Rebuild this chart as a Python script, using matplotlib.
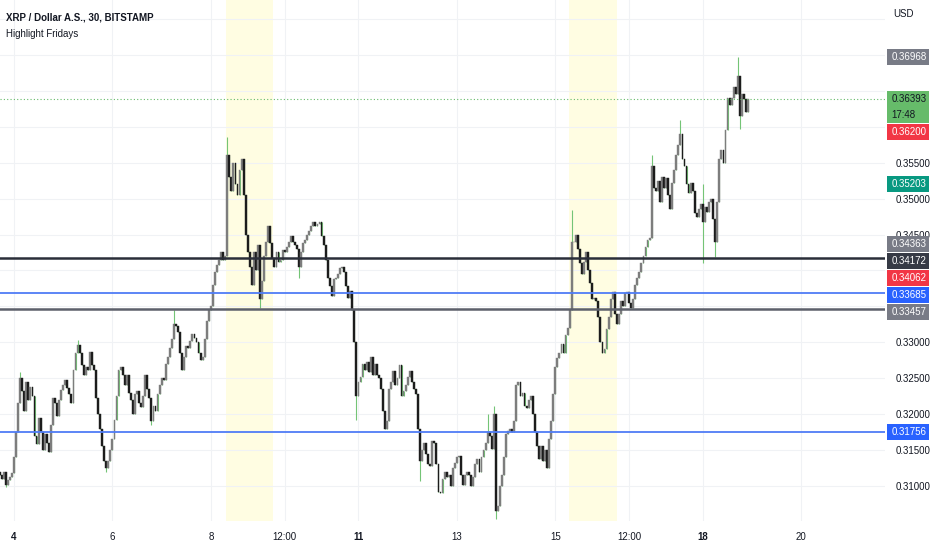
import matplotlib.pyplot as plt
from matplotlib.patches import Rectangle

# XRP / USD on Bitstamp, read off the chart as hourly closes
# first bar is day 3 at 17:00, one bar per hour
start_day = 3 + 17 / 24
first_open = 0.3120
closes = [
    0.3115, 0.3110, 0.3120, 0.3102, 0.3108, 0.3112, 0.3118, 0.3140, 0.3175, 0.3215,
    0.3250, 0.3232, 0.3205, 0.3245, 0.3220, 0.3238, 0.3225, 0.3170, 0.3158, 0.3195,
    0.3175, 0.3150, 0.3172, 0.3160, 0.3148, 0.3185, 0.3222, 0.3215, 0.3198, 0.3220,
    0.3234, 0.3240, 0.3248, 0.3236, 0.3228, 0.3215, 0.3262, 0.3285, 0.3296, 0.3285,
    0.3268, 0.3254, 0.3266, 0.3262, 0.3287, 0.3268, 0.3262, 0.3222, 0.3200, 0.3180,
    0.3155, 0.3135, 0.3125, 0.3135, 0.3150, 0.3165, 0.3192, 0.3225, 0.3262, 0.3266,
    0.3255, 0.3240, 0.3255, 0.3230, 0.3220, 0.3200, 0.3228, 0.3232, 0.3215, 0.3210,
    0.3225, 0.3255, 0.3235, 0.3222, 0.3190, 0.3212, 0.3205, 0.3228, 0.3240, 0.3250,
    0.3248, 0.3270, 0.3280, 0.3292, 0.3305, 0.3325, 0.3322, 0.3315, 0.3285, 0.3262,
    0.3280, 0.3295, 0.3292, 0.3302, 0.3312, 0.3306, 0.3300, 0.3285, 0.3275, 0.3280,
    0.3305, 0.3330, 0.3345, 0.3350, 0.3380, 0.3398, 0.3408, 0.3415, 0.3425, 0.3415,
    0.3420, 0.3560, 0.3530, 0.3510, 0.3550, 0.3520, 0.3505, 0.3540, 0.3555, 0.3505,
    0.3450, 0.3425, 0.3405, 0.3380, 0.3425, 0.3400, 0.3435, 0.3360, 0.3385, 0.3420,
    0.3440, 0.3462, 0.3438, 0.3418, 0.3405, 0.3425, 0.3412, 0.3415, 0.3428, 0.3425,
    0.3432, 0.3440, 0.3448, 0.3440, 0.3436, 0.3430, 0.3405, 0.3425, 0.3438, 0.3442,
    0.3450, 0.3455, 0.3462, 0.3468, 0.3462, 0.3465, 0.3468, 0.3448, 0.3435, 0.3415,
    0.3390, 0.3378, 0.3365, 0.3388, 0.3390, 0.3395, 0.3403, 0.3405, 0.3398, 0.3378,
    0.3362, 0.3372, 0.3345, 0.3300, 0.3225, 0.3245, 0.3252, 0.3270, 0.3262, 0.3272,
    0.3258, 0.3280, 0.3255, 0.3270, 0.3255, 0.3250, 0.3235, 0.3205, 0.3180, 0.3190,
    0.3235, 0.3245, 0.3260, 0.3240, 0.3250, 0.3268, 0.3225, 0.3232, 0.3240, 0.3252,
    0.3260, 0.3245, 0.3235, 0.3228, 0.3180, 0.3135, 0.3150, 0.3160, 0.3145, 0.3130,
    0.3128, 0.3162, 0.3160, 0.3130, 0.3092, 0.3090, 0.3110, 0.3120, 0.3112, 0.3115,
    0.3100, 0.3125, 0.3132, 0.3140, 0.3142, 0.3115, 0.3102, 0.3115, 0.3120, 0.3115,
    0.3100, 0.3112, 0.3130, 0.3138, 0.3120, 0.3140, 0.3150, 0.3160, 0.3175, 0.3170,
    0.3152, 0.3200, 0.3065, 0.3072, 0.3100, 0.3115, 0.3140, 0.3172, 0.3176, 0.3180,
    0.3175, 0.3190, 0.3240, 0.3245, 0.3225, 0.3230, 0.3212, 0.3208, 0.3220, 0.3225,
    0.3200, 0.3175, 0.3155, 0.3138, 0.3155, 0.3135, 0.3150, 0.3125, 0.3165, 0.3190,
    0.3228, 0.3265, 0.3278, 0.3285, 0.3298, 0.3285, 0.3310, 0.3320, 0.3345, 0.3440,
    0.3440, 0.3450, 0.3430, 0.3410, 0.3395, 0.3412, 0.3425, 0.3400, 0.3382, 0.3360,
    0.3362, 0.3358, 0.3335, 0.3300, 0.3285, 0.3290, 0.3318, 0.3335, 0.3360, 0.3370,
    0.3340, 0.3325, 0.3340, 0.3358, 0.3350, 0.3368, 0.3370, 0.3355, 0.3348, 0.3360,
    0.3380, 0.3390, 0.3398, 0.3410, 0.3420, 0.3432, 0.3442, 0.3445, 0.3545, 0.3515,
    0.3510, 0.3525, 0.3495, 0.3530, 0.3515, 0.3528, 0.3505, 0.3485, 0.3522, 0.3540,
    0.3560, 0.3575, 0.3590, 0.3555, 0.3545, 0.3520, 0.3508, 0.3522, 0.3510, 0.3480,
    0.3475, 0.3485, 0.3492, 0.3468, 0.3488, 0.3482, 0.3495, 0.3500, 0.3472, 0.3440,
    0.3495, 0.3555, 0.3568, 0.3550, 0.3595, 0.3640, 0.3630, 0.3640, 0.3655, 0.3645,
    0.3670, 0.3615, 0.3645, 0.3638, 0.3620, 0.3639,
]

# long wicks that stick out of the bodies
wick_bar = [3, 10, 38, 52, 74, 85, 89, 111, 127, 146, 174, 205, 238, 241, 242,
            279, 318, 332, 343, 349, 360, 361]
wick_high = [None, 0.3258, 0.3303, None, None, 0.3345, None, 0.3586, None, None,
             None, None, 0.3200, 0.3212, None, 0.3484, 0.3560, 0.3609, 0.3520,
             None, 0.3697, None]
wick_low = [0.3099, None, None, 0.3119, 0.3185, None, 0.3261, None, 0.3348, 0.3390,
            0.3192, 0.3107, None, None, 0.3054, None, None, None, 0.3411, 0.3419,
            None, 0.3597]

# horizontal levels drawn on the chart
level_prices = [0.34172, 0.33685, 0.33457, 0.31756]
level_colors = ['#2a2e39', '#4f7cf6', '#5d606b', '#4f7cf6']
level_widths = [1.8, 1.3, 1.8, 1.3]
last_price = 0.36393
countdown = '17:48'

# price scale badges: value, background, text colour
badge_prices = [0.36968, 0.36393, 0.36200, 0.35203, 0.34363, 0.34172, 0.34062, 0.33685, 0.33457, 0.31756]
badge_colors = ['#787b86', '#66bb6a', '#f23645', '#089981', '#787b86', '#363a45',
                '#f23645', '#2962ff', '#787b86', '#2962ff']
badge_text = ['white', '#131722', 'white', 'white', 'white', 'white',
              'white', 'white', 'white', 'white']

friday_start = [8.30, 15.28]
friday_length = 0.97

tick_days = [4, 6, 8, 9.5, 11, 13, 15, 16.5, 18, 20]
tick_labels = ['4', '6', '8', '12:00', '11', '13', '15', '12:00', '18', '20']
bold_ticks = ['4', '11', '18']

price_ticks = [0.310, 0.315, 0.320, 0.325, 0.330, 0.335, 0.340, 0.345, 0.350,
               0.355, 0.360, 0.365, 0.370, 0.375]

plt.rcParams['font.family'] = ['Liberation Sans', 'DejaVu Sans']
text_color = '#131722'

opens = [first_open] + closes[:-1]
highs = [max(o, c) for o, c in zip(opens, closes)]
lows = [min(o, c) for o, c in zip(opens, closes)]
for i, hi, lo in zip(wick_bar, wick_high, wick_low):
    if hi is not None:
        highs[i] = max(highs[i], hi)
    if lo is not None:
        lows[i] = min(lows[i], lo)
times = [start_day + i / 24 for i in range(len(closes))]

fig = plt.figure(figsize=(9.32, 5.5), dpi=100)
ax = fig.add_axes([0, 29 / 550, 885 / 932, 521 / 550])
y_min, y_max = 0.30513, 0.37764
ax.set_xlim(3.7154, 21.70)
ax.set_ylim(y_min, y_max)

for d in friday_start:
    ax.axvspan(d, d + friday_length, color='#fffde2', lw=0, zorder=0)

for d in tick_days:
    ax.axvline(d, color='#f0f2f5', lw=0.8, zorder=0.5)
for p in price_ticks:
    ax.axhline(p, color='#f0f2f5', lw=0.8, zorder=0.5)

# candles
ax.vlines(times, lows, highs, color='#74c476', lw=0.8, zorder=2)
up = [c >= o for o, c in zip(opens, closes)]
body_colors = ['#7d7d7d' if u else '#1c1c1c' for u in up]
ax.bar(times, [c - o for o, c in zip(opens, closes)], bottom=opens,
       width=0.9 / 24, color=body_colors, edgecolor=body_colors, lw=0.3, zorder=3)

for p, c, w in zip(level_prices, level_colors, level_widths):
    ax.axhline(p, color=c, lw=w, zorder=4)
ax.axhline(last_price, color='#66bb6a', lw=0.8, ls=(0, (1, 2)), zorder=4)

# price badges, pushed down when they would overlap
px_per_unit = 521 / (y_max - y_min)
prev_bottom = -100
ytrans = ax.get_yaxis_transform()
badge_spans = []
for p, bg, fg in zip(badge_prices, badge_colors, badge_text):
    h = 32 if p == last_price else 16
    top = (y_max - p) * px_per_unit - 8
    top = max(top, prev_bottom + 1)
    prev_bottom = top + h
    badge_spans.append((top, top + h))
    y_top = y_max - top / px_per_unit
    y_bot = y_max - (top + h) / px_per_unit
    ax.add_patch(Rectangle((1.002, y_bot), 0.0475, y_top - y_bot, transform=ytrans,
                           facecolor=bg, edgecolor='none', clip_on=False, zorder=10))
    y_mid = y_max - (top + 8) / px_per_unit
    ax.text(1.0075, y_mid, f'{p:.5f}', transform=ytrans, color=fg, fontsize=7,
            va='center', ha='left', clip_on=False, zorder=11)
    if h == 32:
        ax.text(1.0075, y_max - (top + 24) / px_per_unit, countdown, transform=ytrans,
                color=fg, fontsize=7, va='center', ha='left', clip_on=False, zorder=11)

# axes look
for s in ax.spines.values():
    s.set_visible(False)
ax.set_xticks(tick_days)
ax.set_xticklabels(tick_labels)
for lab in ax.get_xticklabels():
    if lab.get_text() in bold_ticks:
        lab.set_fontweight('bold')
ax.yaxis.tick_right()
ax.set_yticks(price_ticks)
ylabels = []
for p in price_ticks:
    y_px = (y_max - p) * px_per_unit
    covered = any(a - 0.5 <= y_px <= b + 0.5 for a, b in badge_spans)
    ylabels.append('' if covered or p == price_ticks[-1] else f'{p:.5f}')
ax.set_yticklabels(ylabels)
ax.tick_params(axis='both', length=0, labelsize=7, colors=text_color)
ax.tick_params(axis='x', pad=8)
ax.tick_params(axis='y', pad=8)

fig.text(893 / 932, 1 - 14 / 550, 'USD', fontsize=7, color=text_color, va='center')
fig.text(6 / 932, 1 - 17 / 550, 'XRP / Dollar A.S., 30, BITSTAMP', fontsize=7,
         fontweight='bold', color=text_color, va='center')
fig.text(6 / 932, 1 - 34 / 550, 'Highlight Fridays', fontsize=7,
         color=text_color, va='center')

fig.savefig('out.png', dpi=100)
